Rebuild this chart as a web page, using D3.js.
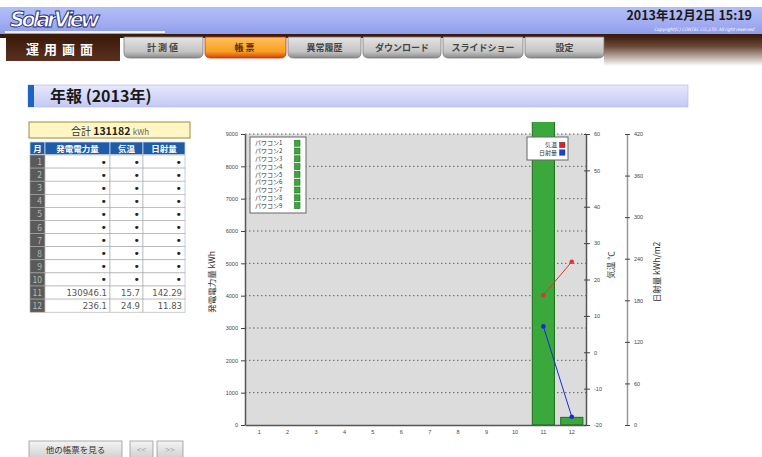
<!DOCTYPE html>
<html>
<head>
<meta charset="utf-8">
<script src="https://cdn.jsdelivr.net/npm/d3@7"></script>
<style>
  html, body { margin: 0; padding: 0; background: #fff; }
  svg { display: block; font-family: "Noto Sans CJK JP", "DejaVu Sans", sans-serif; }
</style>
</head>
<body>
<div id="page"></div>
<script>
// ---- data ----
const months = [1, 2, 3, 4, 5, 6, 7, 8, 9, 10, 11, 12];
const power = [null, null, null, null, null, null, null, null, null, null, 130946.1, 236.1];
const temp = [null, null, null, null, null, null, null, null, null, null, 15.7, 24.9];
const solar = [null, null, null, null, null, null, null, null, null, null, 142.29, 11.83];
const powerTicks = [0, 1000, 2000, 3000, 4000, 5000, 6000, 7000, 8000, 9000];
const tempTicks = [-20, -10, 0, 10, 20, 30, 40, 50, 60];
const solarTicks = [0, 60, 120, 180, 240, 300, 360, 420];
const pcsNames = ["パワコン1", "パワコン2", "パワコン3", "パワコン4", "パワコン5", "パワコン6", "パワコン7", "パワコン8", "パワコン9"];
const tabs = ["計測値", "帳票", "異常履歴", "ダウンロード", "スライドショー", "設定"];
const tableHead = ["月", "発電電力量", "気温", "日射量"];
const totalKwh = 131182;

const W = 762, H = 457;
const svg = d3.select("#page").append("svg").attr("width", W).attr("height", H);
const defs = svg.append("defs");

function grad(id, stops, vertical = true) {
  const g = defs.append("linearGradient").attr("id", id)
    .attr("x1", 0).attr("y1", 0).attr("x2", vertical ? 0 : 1).attr("y2", vertical ? 1 : 0);
  stops.forEach(([o, c]) => g.append("stop").attr("offset", o).attr("stop-color", c));
}
grad("topband", [[0, "#b4bef6"], [0.55, "#a3aef2"], [1, "#909ded"]]);
grad("navfade", [[0, "#3a1c0c"], [0.35, "#6b4a38"], [1, "#ffffff"]]);
grad("tabgray", [[0, "#e4e4e4"], [0.7, "#c4c4c4"], [1, "#8a8a8a"]]);
grad("taborange", [[0, "#ffc060"], [0.7, "#f7a020"], [1, "#d84010"]]);
grad("titleband", [[0, "#e6e8fc"], [1, "#c4c9f5"]]);
grad("btn", [[0, "#f4f4f4"], [1, "#cfcfcf"]]);
grad("brown", [[0, "#3a1a0a"], [1, "#5a3020"]]);

// ---- header ----
svg.append("rect").attr("x", 0).attr("y", 7).attr("width", W).attr("height", 27).attr("fill", "url(#topband)");
svg.append("rect").attr("x", 5).attr("y", 31).attr("width", 160).attr("height", 2).attr("fill", "#ffffff").attr("opacity", 0.85);
svg.append("text").attr("x", 10).attr("y", 27)
  .attr("font-family", "DejaVu Sans").attr("font-style", "italic").attr("font-weight", "bold")
  .attr("font-size", 21).attr("fill", "#ffffff").attr("stroke", "#22307a").attr("stroke-width", 0.9)
  .attr("textLength", 90).text("SolarView");
svg.append("text").attr("x", 752).attr("y", 20).attr("text-anchor", "end")
  .attr("font-size", 12.5).attr("font-weight", "bold").attr("fill", "#1a1a1a")
  .text("2013年12月2日 15:19");
svg.append("text").attr("x", 754).attr("y", 31).attr("text-anchor", "end")
  .attr("font-size", 4.5).attr("fill", "#ffffff").attr("font-style", "italic")
  .text("Copyright(C) CONTEC CO.,LTD. All right reserved");

// nav bar
svg.append("rect").attr("x", 0).attr("y", 34).attr("width", W).attr("height", 4).attr("fill", "#3a1c0c");
svg.append("rect").attr("x", 604).attr("y", 36).attr("width", W - 604).attr("height", 30).attr("fill", "url(#navfade)");
svg.append("rect").attr("x", 6).attr("y", 36).attr("width", 114).attr("height", 25).attr("fill", "url(#brown)");
svg.append("text").attr("x", 62).attr("y", 54).attr("text-anchor", "middle")
  .attr("font-size", 13).attr("font-weight", "bold").attr("fill", "#ffffff").attr("letter-spacing", 5)
  .text("運用画面");

const tabX = [123, 204, 287, 362, 442, 524, 605];
tabs.forEach((t, i) => {
  const x0 = tabX[i] + 1, x1 = tabX[i + 1] - 1, y0 = 37, y1 = 58;
  const path = `M${x0},${y0} L${x1},${y0} L${x1},${y1 - 5} Q${x1},${y1} ${x1 - 6},${y1} L${x0 + 6},${y1} Q${x0},${y1} ${x0},${y1 - 5} Z`;
  svg.append("path").attr("d", path)
    .attr("fill", i === 1 ? "url(#taborange)" : "url(#tabgray)")
    .attr("stroke", i === 1 ? "#c03010" : "#7a7a7a").attr("stroke-width", 0.8);
  svg.append("text").attr("x", (x0 + x1) / 2).attr("y", 51).attr("text-anchor", "middle")
    .attr("font-size", 9).attr("font-weight", "bold").attr("fill", i === 1 ? "#5a2a00" : "#444")
    .attr("letter-spacing", i < 2 ? 2 : 0)
    .text(t);
});

// title
svg.append("rect").attr("x", 28).attr("y", 85).attr("width", 660).attr("height", 22)
  .attr("fill", "url(#titleband)").attr("stroke", "#b0b4e0").attr("stroke-width", 0.6);
svg.append("rect").attr("x", 28).attr("y", 85).attr("width", 6).attr("height", 22).attr("fill", "#1d63c0");
svg.append("text").attr("x", 50).attr("y", 102).attr("font-size", 16).attr("font-weight", "bold")
  .attr("fill", "#1a1a1a").text("年報 (2013年)");

// ---- table ----
const tb = svg.append("g");
tb.append("rect").attr("x", 29).attr("y", 122).attr("width", 161).attr("height", 16)
  .attr("fill", "#fff6c4").attr("stroke", "#9c8c40");
const tt = tb.append("text").attr("x", 110).attr("y", 134.5).attr("text-anchor", "middle").attr("fill", "#333");
tt.append("tspan").attr("font-size", 10).text("合計 ");
tt.append("tspan").attr("font-size", 10.5).attr("font-weight", "bold").attr("fill", "#222").text(" " + totalKwh + " ");
tt.append("tspan").attr("font-size", 8).attr("fill", "#666").text(" kWh");

const colX = [30, 45, 110, 143, 185];
const headY = 142, headH = 12.5, rowY = 155, rowH = 13.1;
tableHead.forEach((h, i) => {
  tb.append("rect").attr("x", colX[i]).attr("y", headY).attr("width", colX[i + 1] - colX[i]).attr("height", headH)
    .attr("fill", "#1f5ca8").attr("stroke", "#c8d4e4").attr("stroke-width", 0.8);
  tb.append("text").attr("x", (colX[i] + colX[i + 1]) / 2).attr("y", headY + 9.8).attr("text-anchor", "middle")
    .attr("font-size", 8.5).attr("font-weight", "bold").attr("fill", "#fff").text(h);
});
const fmt = (v) => v == null ? "•" : String(v);
months.forEach((m, r) => {
  const y = rowY + r * rowH;
  tb.append("rect").attr("x", colX[0]).attr("y", y).attr("width", colX[1] - colX[0]).attr("height", rowH)
    .attr("fill", "#5a5a5a").attr("stroke", "#aaa").attr("stroke-width", 0.6);
  tb.append("text").attr("x", colX[1] - 3).attr("y", y + 10).attr("text-anchor", "end")
    .attr("font-size", 8.5).attr("fill", "#b8b8b8").text(m);
  [power[r], temp[r], solar[r]].forEach((v, c) => {
    tb.append("rect").attr("x", colX[c + 1]).attr("y", y).attr("width", colX[c + 2] - colX[c + 1]).attr("height", rowH)
      .attr("fill", "#fff").attr("stroke", "#a8a8a8").attr("stroke-width", 0.6);
    tb.append("text").attr("x", colX[c + 2] - 3).attr("y", y + (v == null ? 10.5 : 9.8)).attr("text-anchor", "end")
      .attr("font-family", "DejaVu Sans")
      .attr("font-size", v == null ? 11 : 8.5).attr("fill", v == null ? "#222" : "#555").text(fmt(v));
  });
});

// ---- buttons ----
function button(x, w, label, col) {
  svg.append("rect").attr("x", x).attr("y", 441).attr("width", w).attr("height", 18)
    .attr("fill", "url(#btn)").attr("stroke", "#999").attr("stroke-width", 0.8);
  svg.append("text").attr("x", x + w / 2).attr("y", 453).attr("text-anchor", "middle")
    .attr("font-size", 8.5).attr("fill", col).text(label);
}
button(29, 93, "他の帳票を見る", "#333");
button(130, 23, "<<", "#aaa");
button(157, 26, ">>", "#aaa");

// ---- chart ----
const L = 245, R = 586, T = 134, B = 425;
const x = d3.scaleBand().domain(months).range([L, R]).paddingInner(0.22).paddingOuter(0.11);
const yP = d3.scaleLinear().domain([0, 9000]).range([B, T]);
const yT = d3.scaleLinear().domain([-20, 60]).range([B, T]);
const yS = d3.scaleLinear().domain([0, 420]).range([B, T]);

const chart = svg.append("g").attr("font-family", "DejaVu Sans");
chart.append("rect").attr("x", L).attr("y", T).attr("width", R - L).attr("height", B - T).attr("fill", "#dcdcdc");

// grid
chart.append("g").selectAll("line").data(powerTicks.filter(d => d > 0)).join("line")
  .attr("x1", L).attr("x2", R).attr("y1", d => yP(d)).attr("y2", d => yP(d))
  .attr("stroke", "#555").attr("stroke-width", 0.9).attr("stroke-dasharray", "1.5,2.5");

// bars (clipped a little above plot)
defs.append("clipPath").attr("id", "barclip").append("rect")
  .attr("x", L).attr("y", 122).attr("width", R - L).attr("height", B - 122);
chart.append("g").attr("clip-path", "url(#barclip)").selectAll("rect")
  .data(months.map((m, i) => ({ m, v: power[i] })).filter(d => d.v != null)).join("rect")
  .attr("x", d => x(d.m)).attr("width", x.bandwidth())
  .attr("y", d => yP(d.v)).attr("height", d => B - yP(d.v))
  .attr("fill", "#3aa83a").attr("stroke", "#1c6e1c").attr("stroke-width", 1);

// axes
const fs = 5.5;
const plain = d => String(d);
function styleAxis(g) {
  g.selectAll("text").attr("font-size", fs).attr("fill", "#444");
  g.selectAll("line").attr("stroke", "#444");
  g.select(".domain").attr("stroke", "#555").attr("stroke-width", 1.5);
}
chart.append("g").attr("transform", `translate(${L},0)`)
  .call(d3.axisLeft(yP).tickValues(powerTicks).tickFormat(plain).tickSize(4).tickPadding(3).tickSizeOuter(0))
  .call(styleAxis);
chart.append("g").attr("transform", `translate(0,${B})`)
  .call(d3.axisBottom(x).tickSize(0).tickPadding(5))
  .call(styleAxis);
chart.append("g").attr("transform", `translate(${R},0)`)
  .call(d3.axisRight(yT).tickValues(tempTicks).tickFormat(plain).tickSize(4).tickPadding(4).tickSizeOuter(0))
  .call(styleAxis)
  .call(g => g.selectAll(".tick line").attr("x1", -2));
chart.append("g").attr("transform", `translate(627,0)`)
  .call(d3.axisRight(yS).tickValues(solarTicks).tickFormat(plain).tickSize(3).tickPadding(4).tickSizeOuter(0))
  .call(styleAxis)
  .call(g => g.select(".domain").attr("stroke", "#999"))
  .call(g => g.selectAll(".tick line").attr("x1", -2));

// axis titles
const axTitle = (xx, yy, txt) => svg.append("text").attr("transform", `translate(${xx},${yy}) rotate(-90)`)
  .attr("text-anchor", "middle").attr("font-size", 8.5).attr("fill", "#333").text(txt);
axTitle(215, 282, "発電電力量 kWh");
axTitle(614, 265, "気温 ℃");
axTitle(660, 272, "日射量 kWh/m2");

// lines
const cx = m => x(m) + x.bandwidth() / 2;
function series(vals, yScale, color) {
  const pts = months.map((m, i) => ({ m, v: vals[i] })).filter(d => d.v != null);
  chart.append("path").datum(pts)
    .attr("d", d3.line().x(d => cx(d.m)).y(d => yScale(d.v)))
    .attr("fill", "none").attr("stroke", color).attr("stroke-width", 1);
  chart.append("g").selectAll("circle").data(pts).join("circle")
    .attr("cx", d => cx(d.m)).attr("cy", d => yScale(d.v)).attr("r", 2.3).attr("fill", color);
}
series(temp, yT, "#e83030");
series(solar, yS, "#1a28d8");

// legend: inverters
const lg = svg.append("g");
lg.append("rect").attr("x", 250).attr("y", 137).attr("width", 56).attr("height", 76)
  .attr("fill", "#fff").attr("stroke", "#666").attr("stroke-width", 1);
pcsNames.forEach((n, i) => {
  const yy = 143 + i * 7.8;
  lg.append("text").attr("x", 255).attr("y", yy + 2.3).attr("font-size", 6).attr("fill", "#333").text(n);
  lg.append("rect").attr("x", 294.5).attr("y", yy - 2.8).attr("width", 5.5).attr("height", 6)
    .attr("fill", "#3aa83a").attr("stroke", "#1c6e1c").attr("stroke-width", 0.6);
});
// legend: temp / solar
lg.append("rect").attr("x", 527).attr("y", 137).attr("width", 41).attr("height", 23)
  .attr("fill", "#fff").attr("stroke", "#666").attr("stroke-width", 1);
[["気温", "#e02020"], ["日射量", "#1a40d0"]].forEach(([n, c], i) => {
  const yy = 145 + i * 7.6;
  lg.append("text").attr("x", 557).attr("y", yy + 2.2).attr("text-anchor", "end")
    .attr("font-size", 6).attr("fill", "#333").text(n);
  lg.append("rect").attr("x", 559.5).attr("y", yy - 2.8).attr("width", 5.5).attr("height", 5.5)
    .attr("fill", c).attr("stroke", "#333").attr("stroke-width", 0.4);
});
</script>
</body>
</html>
